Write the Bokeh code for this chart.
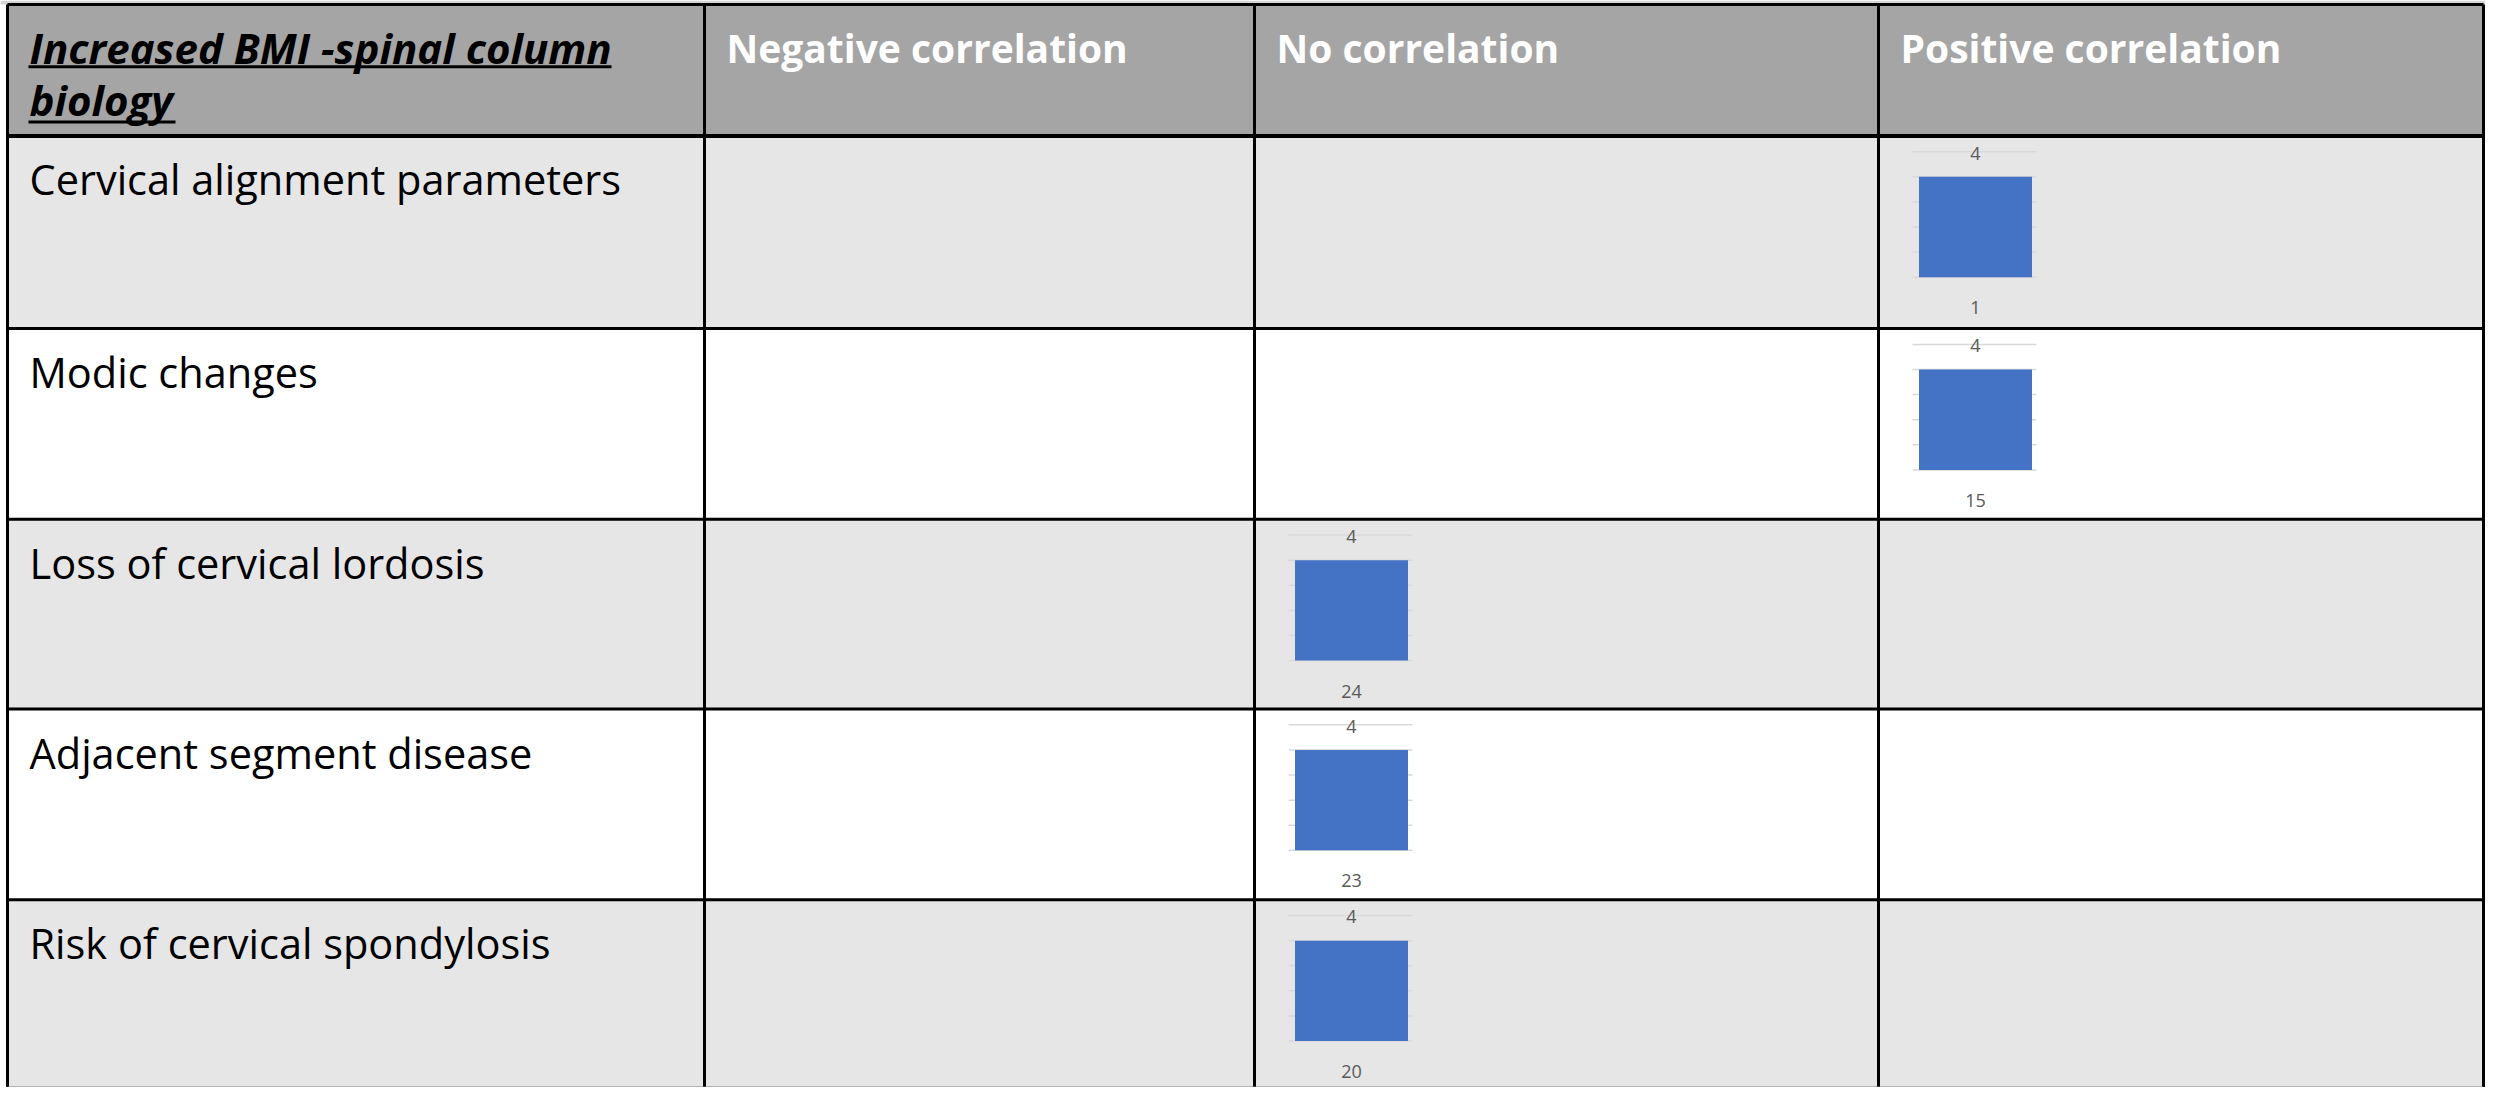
from bokeh.plotting import figure
from bokeh.models import Range1d
from bokeh.embed import file_html
from bokeh.resources import INLINE
from bokeh.core.properties import value

# ---------------- data ----------------
title_lines = ["Increased BMI -spinal column", "biology"]
columns = ["Negative correlation", "No correlation", "Positive correlation"]
rows = ["Cervical alignment parameters", "Modic changes", "Loss of cervical lordosis",
        "Adjacent segment disease", "Risk of cervical spondylosis"]
row_correlation = ["Positive correlation", "Positive correlation", "No correlation",
                   "No correlation", "No correlation"]
bar_values = [4, 4, 4, 4, 4]
bar_categories = ["1", "15", "24", "23", "20"]
axis_ticks = [0, 1, 2, 3, 4, 5]

# ---------------- layout (reference pixel space) ----------------
col_edges = [7, 704, 1254, 1878, 2483]
row_edges = [4, 137, 332, 525, 717, 910, 1100]
HEADER_BG = "#A5A5A5"
ROW_BG = ["#E6E6E6", "#FFFFFF"]
BAR_COLOR = "#4472C4"
GRID_COLOR = "#D9D9D9"
LABEL_COLOR = "#595959"
FONT = "Open Sans"
TEXT_SHIFT = 12  # compensation for alphabetic baseline placement

p = figure(width=2485, height=1087, output_backend="svg", toolbar_location=None,
           x_range=Range1d(0, 2485), y_range=Range1d(1100, 0),
           min_border=0, outline_line_color=None)
p.xaxis.visible = False
p.yaxis.visible = False
p.grid.visible = False
p.background_fill_color = "white"
p.border_fill_color = "white"

# thin strip above table
p.quad(left=[0], right=[2485], top=[0], bottom=[row_edges[0]], fill_color="#D4D4D4",
       line_color=None)

# cell backgrounds
L, R, T, B, C = [], [], [], [], []
for r in range(len(row_edges) - 1):
    for c in range(len(col_edges) - 1):
        L.append(col_edges[c]); R.append(col_edges[c + 1])
        T.append(row_edges[r]); B.append(row_edges[r + 1])
        C.append(HEADER_BG if r == 0 else ROW_BG[(r - 1) % 2])
p.quad(left=L, right=R, top=T, bottom=B, fill_color=C, line_color=None)

# mini bar charts
col_lookup = {name: i + 1 for i, name in enumerate(columns)}
unit = 25.4
gx0, gx1, gy = [], [], []
bx, btop, bbot = [], [], []
vx, vy, vt = [], [], []
cx, cy, ct = [], [], []
for i, (corr, v, cat) in enumerate(zip(row_correlation, bar_values, bar_categories)):
    cl = col_edges[col_lookup[corr]]
    rt = row_edges[i + 1]
    base = rt + 143
    for t in axis_ticks:
        gx0.append(cl + 34); gx1.append(cl + 158); gy.append(base - t * unit)
    bx.append(cl + 97); btop.append(base - v * unit); bbot.append(base)
    vx.append(cl + 97); vy.append(base - v * unit - 24); vt.append(str(v))
    cx.append(cl + 97); cy.append(rt + 174); ct.append(cat)

p.segment(x0=gx0, x1=gx1, y0=gy, y1=gy, line_color=GRID_COLOR, line_width=1.5)
p.vbar(x=bx, width=113, top=btop, bottom=bbot, fill_color=BAR_COLOR, line_color=None)
p.text(x=vx, y=vy, text=vt, text_font=value(FONT), text_font_size="18px",
       text_color=LABEL_COLOR, text_align="center", text_baseline="middle")
p.text(x=cx, y=cy, text=ct, text_font=value(FONT), text_font_size="18px",
       text_color=LABEL_COLOR, text_align="center", text_baseline="middle")

# borders
p.segment(x0=col_edges, x1=col_edges, y0=[row_edges[0]] * len(col_edges),
          y1=[row_edges[-1]] * len(col_edges), line_color="black", line_width=3)
n = len(row_edges)
hw = [3, 4] + [3] * (n - 3) + [2]
hc = ["black"] * (n - 1) + ["#7F7F7F"]
p.segment(x0=[col_edges[0]] * n, x1=[col_edges[-1]] * n,
          y0=row_edges, y1=row_edges, line_color=hc, line_width=hw)

# header texts
p.text(x=[col_edges[c] + 22 for c in range(1, 4)], y=[60 - TEXT_SHIFT] * 3, text=columns,
       text_font=value(FONT), text_font_size="39px", text_font_style="bold",
       text_color="white", text_align="left", text_baseline="alphabetic")
p.text(x=[29, 29], y=[60 - TEXT_SHIFT, 112 - TEXT_SHIFT], text=title_lines,
       text_font=value(FONT), text_font_size="42px", text_font_style="bold italic",
       text_color="black", text_align="left", text_baseline="alphabetic")
p.segment(x0=[28, 28], x1=[611, 175], y0=[67, 123], y1=[67, 123],
          line_color="black", line_width=3)

# row labels
p.text(x=[29] * len(rows), y=[row_edges[i + 1] + 56 - TEXT_SHIFT for i in range(len(rows))],
       text=rows, text_font=value(FONT), text_font_size="41.5px", text_color="black",
       text_align="left", text_baseline="alphabetic")

open("out.html", "w").write(file_html(p, INLINE))
